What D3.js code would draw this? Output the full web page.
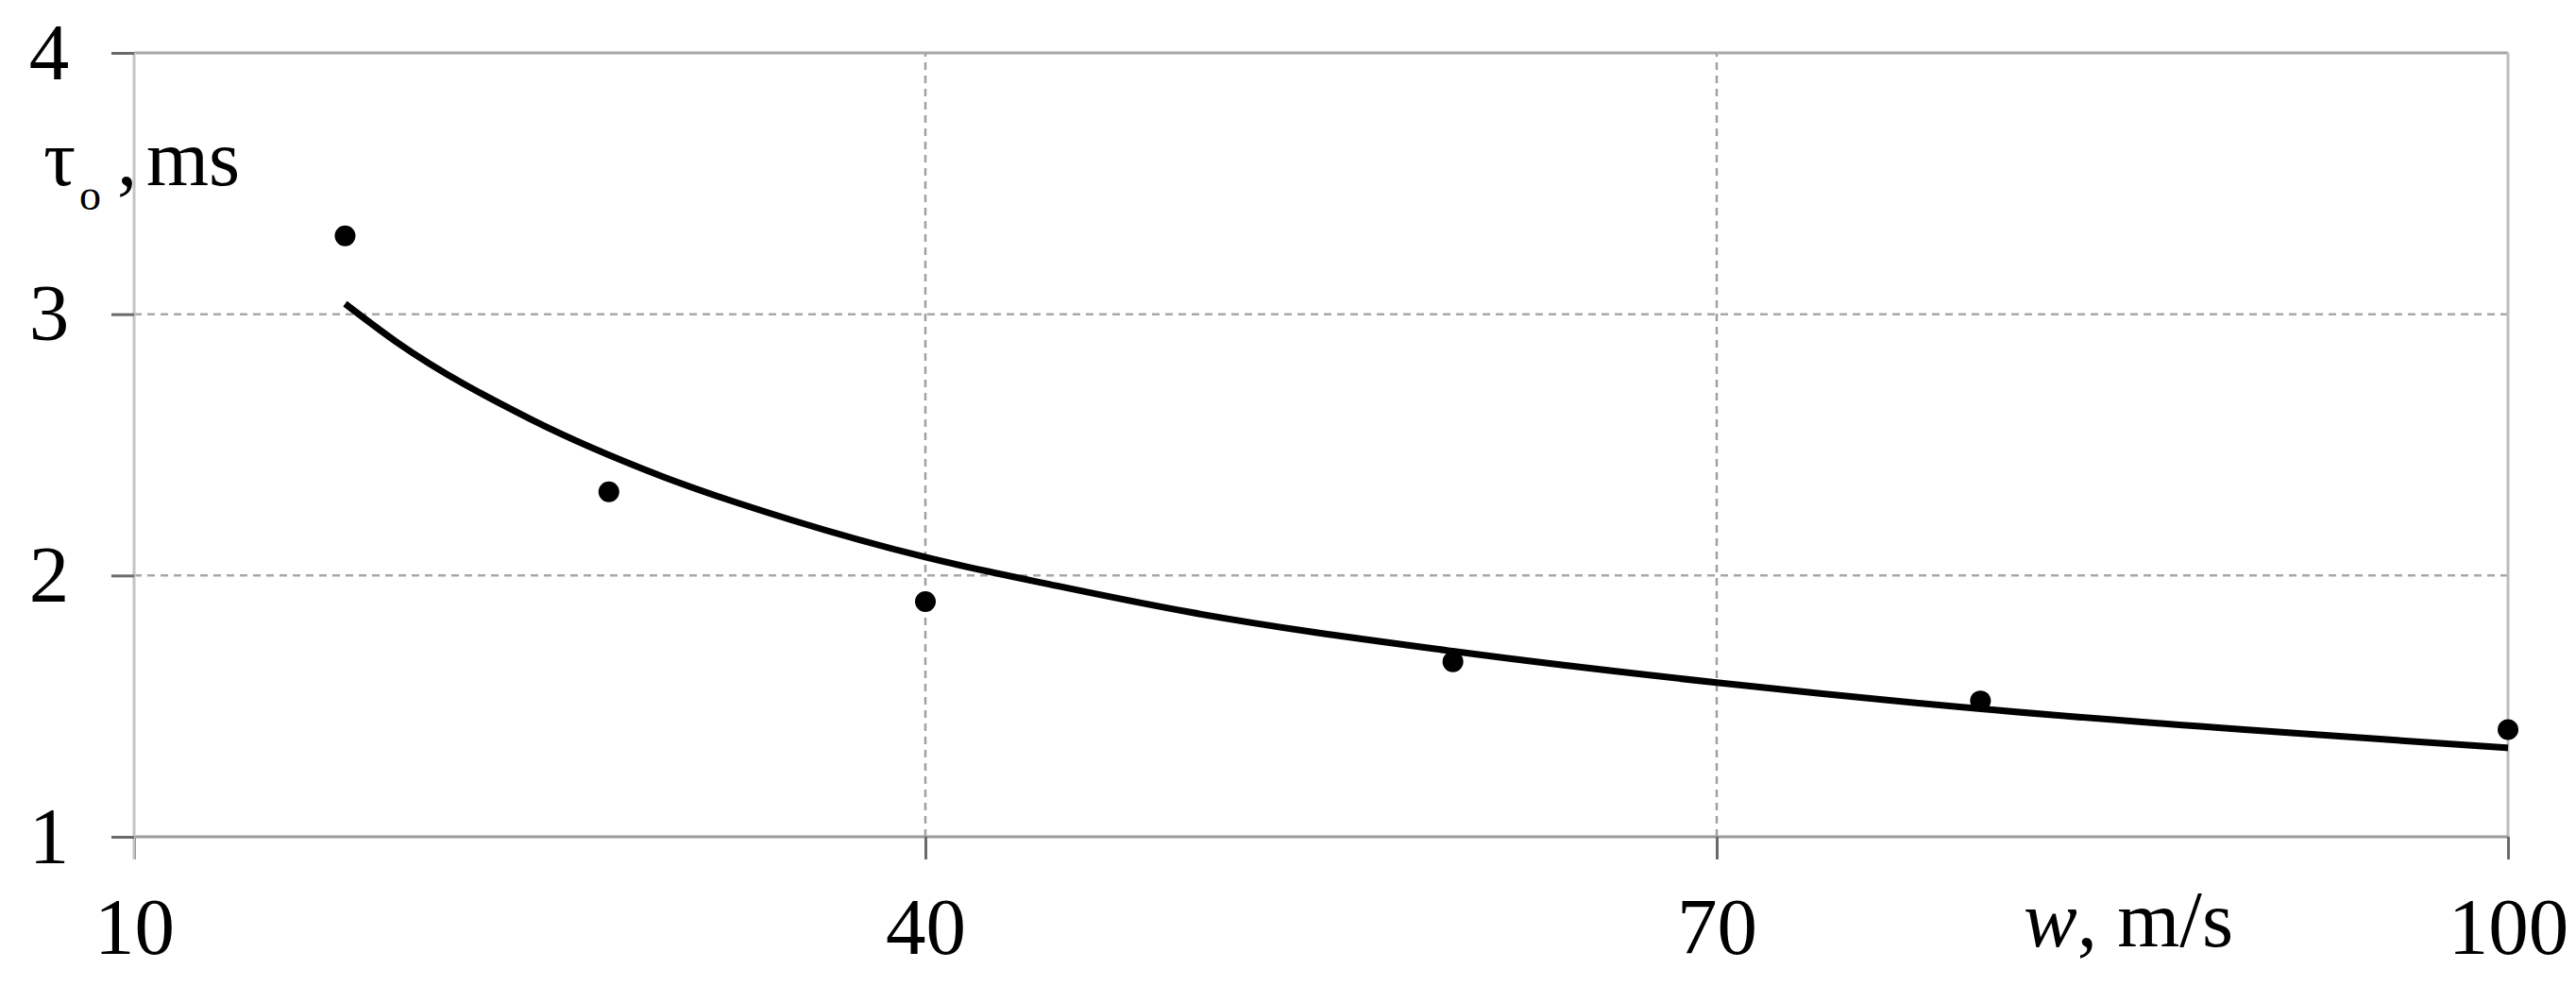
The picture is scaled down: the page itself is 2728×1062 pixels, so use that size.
<!DOCTYPE html>
<html>
<head>
<meta charset="utf-8">
<script src="https://cdn.jsdelivr.net/npm/d3@7"></script>
<style>
  html, body { margin: 0; padding: 0; background: #fff; }
  svg { display: block; }
</style>
</head>
<body>
<svg id="chart" width="2728" height="1062"></svg>
<script>
// ---- data ----
const measuredW = [18, 28, 40, 60, 80, 100];           // w, m/s
const measuredTau = [3.30, 2.32, 1.90, 1.67, 1.52, 1.41]; // tau_o, ms

const fitW   = [18, 20, 25, 30, 35, 40, 45, 50, 60, 70, 80, 90, 100];
const fitTau = [3.04, 2.89, 2.60, 2.38, 2.21, 2.07, 1.96, 1.86, 1.71, 1.59, 1.49, 1.41, 1.34];

const xTicks = [10, 40, 70, 100];
const yTicks = [1, 2, 3, 4];

// ---- layout ----
const W = 2728, H = 1062;
const margin = {left: 142, right: 72, top: 56, bottom: 176};
const svg = d3.select("#chart");
const x = d3.scaleLinear().domain([10, 100]).range([margin.left, W - margin.right]);
const y = d3.scaleLinear().domain([1, 4]).range([H - margin.bottom, margin.top]);
const font = "'Liberation Serif', 'Times New Roman', serif";

// gridlines (dashed)
svg.append("g").selectAll("line.hg")
  .data(yTicks.filter(d => d > 1 && d < 4))
  .join("line")
  .attr("x1", x(10)).attr("x2", x(100))
  .attr("y1", d => y(d)).attr("y2", d => y(d))
  .attr("stroke", "#a8a8a8").attr("stroke-width", 2.5)
  .attr("stroke-dasharray", "8,6");
svg.append("g").selectAll("line.vg")
  .data(xTicks.filter(d => d > 10 && d < 100))
  .join("line")
  .attr("x1", d => x(d)).attr("x2", d => x(d))
  .attr("y1", y(1)).attr("y2", y(4))
  .attr("stroke", "#a0a0a0").attr("stroke-width", 2.5)
  .attr("stroke-dasharray", "8,6");

// border: top & right
svg.append("line")
  .attr("x1", x(10)).attr("x2", x(100)).attr("y1", y(4)).attr("y2", y(4))
  .attr("stroke", "#a8a8a8").attr("stroke-width", 3);
svg.append("line")
  .attr("x1", x(100)).attr("x2", x(100)).attr("y1", y(4)).attr("y2", y(1))
  .attr("stroke", "#bdbdbd").attr("stroke-width", 3);

// axes
const xAxis = d3.axisBottom(x).tickValues(xTicks).tickSize(24).tickPadding(0).tickFormat(d3.format("d"));
const yAxis = d3.axisLeft(y).tickValues(yTicks).tickSize(24).tickPadding(0).tickFormat(d3.format("d"));

const gx = svg.append("g").attr("transform", `translate(0,${y(1)})`).call(xAxis);
gx.select(".domain").attr("stroke", "#9a9a9a").attr("stroke-width", 3)
  .attr("d", `M${x(10)},0H${x(100)}`);
gx.selectAll(".tick line").attr("stroke", "#6a6a6a").attr("stroke-width", 3);
gx.selectAll(".tick text")
  .attr("y", 124).attr("dy", 0)
  .attr("font-family", font).attr("font-size", 85).attr("fill", "#000");

const gy = svg.append("g").attr("transform", `translate(${x(10)},0)`).call(yAxis);
gy.select(".domain").attr("stroke", "#c4c4c4").attr("stroke-width", 3)
  .attr("d", `M0,${y(4)}V${y(1) + 24}`);
gy.selectAll(".tick line").attr("stroke", "#6a6a6a").attr("stroke-width", 3);
gy.selectAll(".tick text")
  .attr("x", 52 - x(10)).attr("dy", "0.32em")
  .attr("text-anchor", "middle")
  .attr("font-family", font).attr("font-size", 85).attr("fill", "#000");

// fitted curve
const line = d3.line()
  .x((d, i) => x(fitW[i]))
  .y(d => y(d))
  .curve(d3.curveMonotoneX);
svg.append("path")
  .datum(fitTau)
  .attr("d", line)
  .attr("fill", "none")
  .attr("stroke", "#000")
  .attr("stroke-width", 7);

// measured points
svg.append("g").selectAll("circle")
  .data(measuredTau)
  .join("circle")
  .attr("cx", (d, i) => x(measuredW[i]))
  .attr("cy", d => y(d))
  .attr("r", 11)
  .attr("fill", "#000");

// y axis title: τo, ms
const yt = svg.append("text")
  .attr("font-family", font).attr("font-size", 85).attr("fill", "#000");
yt.append("tspan").attr("x", 46).attr("y", 196).text("τ");
yt.append("tspan").attr("x", 84).attr("y", 222).attr("font-size", 46).text("o");
yt.append("tspan").attr("x", 124).attr("y", 196).text(",");
yt.append("tspan").attr("x", 155).attr("y", 196).text("ms");

// x axis title: w, m/s
const xt = svg.append("text")
  .attr("x", 2143).attr("y", 1002)
  .attr("font-family", font).attr("font-size", 85).attr("fill", "#000");
xt.append("tspan").attr("font-style", "italic").text("w");
xt.append("tspan").text(", m/s");
</script>
</body>
</html>
